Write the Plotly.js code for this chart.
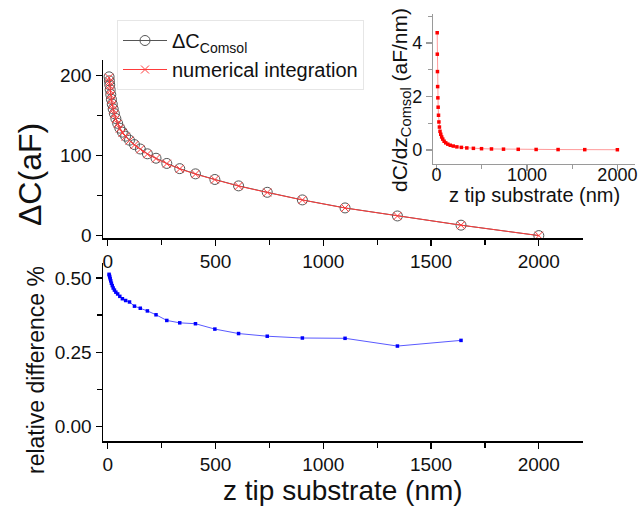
<!DOCTYPE html>
<html>
<head>
<meta charset="utf-8">
<script src="https://cdn.plot.ly/plotly-3.0.1.min.js"></script>
<style>html,body{margin:0;padding:0;background:#fff;}#chart{width:640px;height:507px;}</style>
</head>
<body>
<div id="chart"></div>
<script>
// z tip-substrate distance (nm)
const zTip = [6.2, 7.6, 9.3, 11.4, 14, 17, 21, 25.3, 31, 37.6, 46, 56, 68, 83, 101, 124, 151, 184, 224, 274, 334, 407, 497, 607, 740, 903, 1101, 1344, 1639, 2000];
// Delta C from Comsol (aF)
const dCComsol = [198, 193, 188, 182, 176, 170, 164, 158, 152, 146, 140, 134, 129, 124, 119, 113.5, 108, 102, 96.5, 90, 83.5, 77, 70, 62, 54, 44.5, 34.5, 24.5, 13, 0];
// Delta C from numerical integration (aF)
const dCNumerical = [197.0, 192.0, 187.1, 181.1, 175.2, 169.2, 163.2, 157.3, 151.3, 145.3, 139.4, 133.4, 128.4, 123.5, 118.5, 113.0, 107.6, 101.6, 96.1, 89.7, 83.2, 76.7, 69.8, 61.8, 53.8, 44.4, 34.4, 24.4, 13.0, 0];
// dC/dz from Comsol (aF/nm)
const dCdz = [4.38, 3.58, 2.93, 2.37, 1.95, 1.60, 1.30, 1.05, 0.86, 0.70, 0.59, 0.49, 0.41, 0.33, 0.27, 0.22, 0.18, 0.15, 0.12, 0.10, 0.08, 0.065, 0.052, 0.042, 0.034, 0.028, 0.023, 0.019, 0.016, 0.013];
// relative difference (%) — defined up to 1639 nm
const zRel = [6.2, 7.6, 9.3, 11.4, 14, 17, 21, 25.3, 31, 37.6, 46, 56, 68, 83, 101, 124, 151, 184, 224, 274, 334, 407, 497, 607, 740, 903, 1101, 1344, 1639];
const relDiff = [0.512, 0.508, 0.503, 0.497, 0.490, 0.482, 0.474, 0.466, 0.459, 0.452, 0.446, 0.438, 0.430, 0.424, 0.419, 0.405, 0.398, 0.389, 0.376, 0.357, 0.349, 0.346, 0.328, 0.313, 0.304, 0.298, 0.297, 0.271, 0.290];

const xTicks = [0, 500, 1000, 1500, 2000];
const insetXTicks = [0, 1000, 2000];

const FONT = 'Liberation Sans, Arial, sans-serif';
const W = 640, H = 507;
const px = v => v / W;
const py = v => 1 - v / H;

const traces = [
  {x: zTip, y: dCComsol, xaxis: 'x', yaxis: 'y', type: 'scatter', mode: 'lines+markers',
   name: '\u0394C<sub>Comsol</sub>',
   line: {color: '#555', width: 1},
   marker: {symbol: 'circle-open', size: 10, color: '#555', line: {width: 1, color: '#555'}}},
  {x: zTip, y: dCNumerical, xaxis: 'x', yaxis: 'y', type: 'scatter', mode: 'lines+markers',
   name: 'numerical integration',
   line: {color: '#ff3b3b', width: 1},
   marker: {symbol: 'x-thin', size: 8, color: '#ff3b3b', line: {width: 1, color: '#ff3b3b'}}},
  {x: zRel, y: relDiff, xaxis: 'x2', yaxis: 'y2', type: 'scatter', mode: 'lines+markers',
   showlegend: false,
   line: {color: '#5a5aff', width: 1},
   marker: {symbol: 'square', size: 3.5, color: '#0000ff'}},
  {x: zTip, y: dCdz, xaxis: 'x3', yaxis: 'y3', type: 'scatter', mode: 'lines+markers',
   showlegend: false,
   line: {color: '#ff9a9a', width: 1},
   marker: {symbol: 'square', size: 3.5, color: '#ff0000'}}
];

const axisBase = {
  showline: true, linecolor: '#000', linewidth: 1.5, showgrid: false, zeroline: false,
  ticks: 'outside', ticklen: 6, tickwidth: 1.3, tickcolor: '#000',
  tickfont: {family: FONT, size: 19, color: '#111'}
};

const layout = {
  width: W, height: H,
  margin: {l: 0, r: 0, t: 0, b: 0},
  paper_bgcolor: '#fff', plot_bgcolor: 'rgba(0,0,0,0)',
  font: {family: FONT, color: '#111'},
  showlegend: true,
  legend: {
    x: px(117), y: py(20), xanchor: 'left', yanchor: 'top',
    font: {family: FONT, size: 20, color: '#111'},
    bgcolor: '#fff', bordercolor: '#e6e6e6', borderwidth: 1,
    itemwidth: 44, tracegroupgap: 0
  },
  xaxis: Object.assign({}, axisBase, {
    domain: [px(103), px(583)], anchor: 'y', range: [-22, 2205],
    tickvals: xTicks, ticktext: xTicks.map(String),
    minor: {ticks: 'outside', dtick: 250, tick0: 0, ticklen: 5, tickcolor: '#000', tickwidth: 1.2}
  }),
  yaxis: Object.assign({}, axisBase, {
    domain: [py(238), py(60)], anchor: 'x', range: [-3, 219],
    tickvals: [0, 100, 200],
    minor: {ticks: 'outside', dtick: 50, tick0: 0, ticklen: 5, tickcolor: '#000', tickwidth: 1.2}
  }),
  xaxis2: Object.assign({}, axisBase, {
    domain: [px(103), px(583)], anchor: 'y2', range: [-22, 2205],
    tickvals: xTicks, ticktext: xTicks.map(String),
    minor: {ticks: 'outside', dtick: 250, tick0: 0, ticklen: 5, tickcolor: '#000', tickwidth: 1.2}
  }),
  yaxis2: Object.assign({}, axisBase, {
    domain: [py(441), py(263)], anchor: 'x2', range: [-0.048, 0.55],
    tickvals: [0, 0.25, 0.5], ticktext: ['0.00', '0.25', '0.50'],
    minor: {ticks: 'outside', dtick: 0.125, tick0: 0, ticklen: 5, tickcolor: '#000', tickwidth: 1.2}
  }),
  xaxis3: Object.assign({}, axisBase, {
    domain: [px(433), px(635)], anchor: 'y3', range: [-40, 2195],
    linecolor: '#9a9a9a', tickcolor: '#9a9a9a', linewidth: 1.2,
    tickvals: insetXTicks, ticktext: insetXTicks.map(String),
    tickfont: {family: FONT, size: 18, color: '#111'},
    ticklabelstandoff: -12,
    minor: {ticks: 'outside', dtick: 500, tick0: 0, ticklen: 4, tickcolor: '#9a9a9a', tickwidth: 1}
  }),
  yaxis3: Object.assign({}, axisBase, {
    domain: [py(164), py(14)], anchor: 'x3', range: [-0.52, 5.08],
    linecolor: '#9a9a9a', tickcolor: '#9a9a9a', linewidth: 1.2,
    tickvals: [0, 2, 4],
    tickfont: {family: FONT, size: 18, color: '#111'},
    minor: {ticks: 'outside', dtick: 1, tick0: 0, ticklen: 4, tickcolor: '#9a9a9a', tickwidth: 1}
  }),
  annotations: [
    {xref: 'paper', yref: 'paper', x: px(30), y: py(175), text: '\u0394C(aF)', textangle: -90,
     showarrow: false, xanchor: 'center', yanchor: 'middle', font: {family: FONT, size: 32, color: '#111'}},
    {xref: 'paper', yref: 'paper', x: px(36), y: py(370), text: 'relative difference %', textangle: -90,
     showarrow: false, xanchor: 'center', yanchor: 'middle', font: {family: FONT, size: 23, color: '#111'}},
    {xref: 'paper', yref: 'paper', x: px(343), y: py(490), text: 'z tip substrate (nm)',
     showarrow: false, xanchor: 'center', yanchor: 'middle', font: {family: FONT, size: 28, color: '#111'}},
    {xref: 'paper', yref: 'paper', x: px(534), y: py(195), text: 'z tip substrate (nm)',
     showarrow: false, xanchor: 'center', yanchor: 'middle', font: {family: FONT, size: 20, color: '#111'}},
    {xref: 'paper', yref: 'paper', x: px(401), y: py(100), text: 'dC/dz<sub>Comsol</sub> (aF/nm)', textangle: -90,
     showarrow: false, xanchor: 'center', yanchor: 'middle', font: {family: FONT, size: 21, color: '#111'}}
  ]
};

Plotly.newPlot('chart', traces, layout, {displayModeBar: false, staticPlot: true});
</script>
</body>
</html>
